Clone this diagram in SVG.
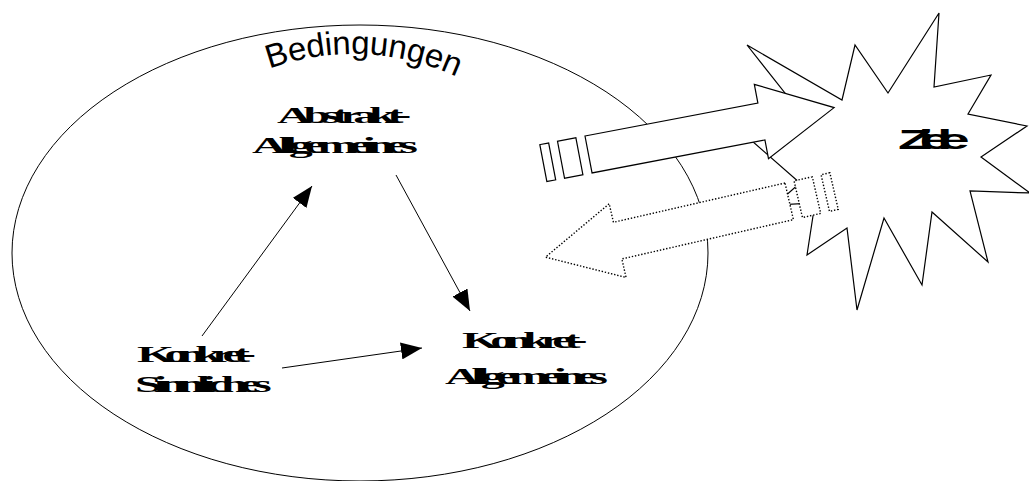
<svg xmlns="http://www.w3.org/2000/svg" xmlns:xlink="http://www.w3.org/1999/xlink" width="1029" height="481" viewBox="0 0 1029 481">
<style>
.line{fill:none;stroke:#000;stroke-width:1}
.shape{fill:#fff;stroke:#000;stroke-width:1.2;stroke-linejoin:miter}
.dots{fill:#fff;stroke:#000;stroke-width:1.4;stroke-dasharray:1.4 1.8}
.lbl{font-family:"Liberation Serif","Times New Roman",serif;font-weight:bold;font-size:24px;fill:#000}
.zi{font-family:"Liberation Sans",Arial,sans-serif;font-weight:bold;font-size:28px;fill:#000;letter-spacing:-7px}
.bed{font-family:"Liberation Sans",Arial,sans-serif;font-size:33px;fill:#000}
.conn{stroke:#000;stroke-width:1;fill:none}
</style>
<defs>
<marker id="ah" markerUnits="userSpaceOnUse" markerWidth="21" markerHeight="17" refX="21" refY="8.5" orient="auto">
<path d="M0,0 L21,8.5 L0,17 Z" fill="#000"/>
</marker>
<g id="bigarrow">
<polygon points="0,0 176,0 176,-19 250,18.8 176,56.6 176,37.6 0,37.6"/>
<rect x="-28" y="0" width="18.7" height="37.6"/>
<rect x="-46" y="0" width="9" height="37.6"/>
</g>
<path id="arc" d="M 262,71.5 A 246 246 0 0 1 470,83.6"/>
</defs>

<g id="bedingungen">
<ellipse class="line" cx="360" cy="253" rx="348" ry="228"/>
<text class="bed"><textPath xlink:href="#arc" href="#arc" startOffset="8" textLength="192" lengthAdjust="spacing">Bedingungen</textPath></text>
</g>

<g id="ziele">
<polygon class="shape" points="747,45 842,100 855,45 888,93 939,13 934,87 991,75 968,114 1027,126 981,157 1030,193 970,191 988,262 932,212 922,285 884,218 857,310 847,228 807,255 815,203 775,205 800,183 735,126 800,112"/>
<text class="zi" transform="translate(898,149) scale(2,1)">Ziele</text>
</g>

<g id="pfeil-hin">
<use xlink:href="#bigarrow" href="#bigarrow" class="shape" transform="translate(585,136) rotate(-10.8)"/>
</g>
<g id="pfeil-zurueck">
<use xlink:href="#bigarrow" href="#bigarrow" class="dots" transform="translate(785,183) rotate(-12.9) scale(-1,1)"/>
</g>

<g id="abstrakt-allgemeines">
<text class="lbl" transform="translate(277,123) scale(2,1)" letter-spacing="-4.1">Abstrakt-</text>
<text class="lbl" transform="translate(252,153) scale(2,1)" letter-spacing="-4.1">Allgemeines</text>
</g>
<g id="konkret-sinnliches">
<text class="lbl" transform="translate(137,362) scale(2,1)" letter-spacing="-4.96">Konkret-</text>
<text class="lbl" transform="translate(135,392) scale(2,1)" letter-spacing="-3.96">Sinnliches</text>
</g>
<g id="konkret-allgemeines">
<text class="lbl" transform="translate(462,348) scale(2,1)" letter-spacing="-4.5">Konkret-</text>
<text class="lbl" transform="translate(445,384) scale(2,1)" letter-spacing="-4.25">Allgemeines</text>
</g>

<g id="connectors">
<line class="conn" x1="202" y1="336" x2="312" y2="186" marker-end="url(#ah)"/>
<line class="conn" x1="396" y1="175" x2="470" y2="311" marker-end="url(#ah)"/>
<line class="conn" x1="282" y1="368" x2="422" y2="348" marker-end="url(#ah)"/>
</g>
</svg>
